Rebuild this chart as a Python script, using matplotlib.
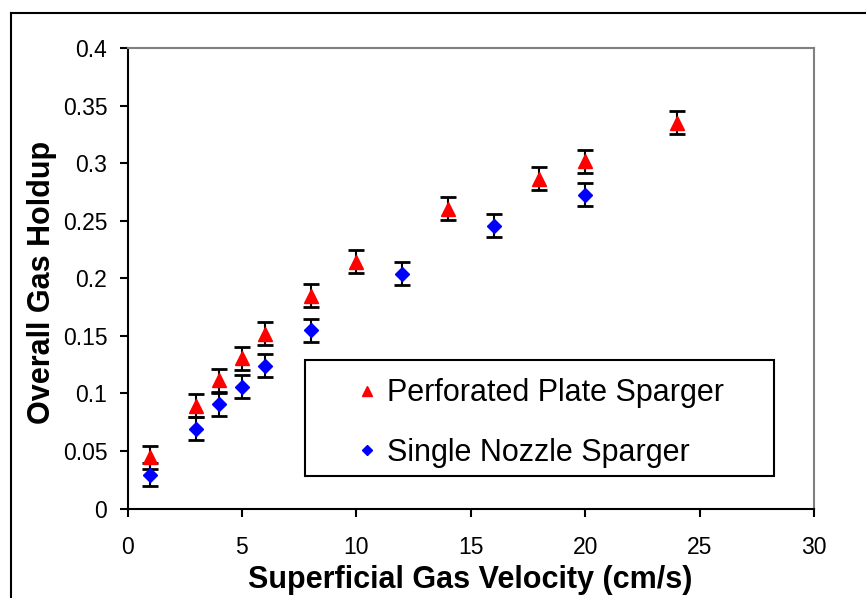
import numpy as np
import matplotlib
matplotlib.use("Agg")
import matplotlib.pyplot as plt
from matplotlib.lines import Line2D
from matplotlib.patches import Rectangle

plt.rcParams["font.family"] = ["Liberation Sans", "DejaVu Sans"]

# ── Holdup data (± error bars) ────────────────────────────────────────────────
vel_plate   = [1, 3, 4, 5, 6, 8, 10, 14, 18, 20, 24]
hold_plate  = [0.0445, 0.0893, 0.1115, 0.1306, 0.1519, 0.1849,
               0.2143, 0.2605, 0.2865, 0.3015, 0.3350]
err_plate   = [0.010] * len(vel_plate)

vel_nozzle  = [1, 3, 4, 5, 6, 8, 12, 16, 20]
hold_nozzle = [0.0293, 0.0694, 0.0905, 0.1058, 0.1238, 0.1550,
               0.2038, 0.2455, 0.2725]
err_nozzle  = [0.010] * len(vel_nozzle)

W, H = 866, 598
fig = plt.figure(figsize=(W / 100, H / 100), dpi=100)
ax = fig.add_axes([127.5 / W, 1 - 508.5 / H, 686.5 / W, 460.5 / H])

# error bars underneath, markers on top
ax.errorbar(vel_nozzle, hold_nozzle, yerr=err_nozzle, fmt="none", ecolor="black",
            elinewidth=1.5, capsize=5.8, capthick=2, zorder=2)
ax.errorbar(vel_plate, hold_plate, yerr=err_plate, fmt="none", ecolor="black",
            elinewidth=1.5, capsize=5.8, capthick=2, zorder=2)
ax.plot(vel_nozzle, hold_nozzle, linestyle="none", marker="D", ms=7,
        color="#0000ff", mec="#0000ff", zorder=3)
ax.plot(vel_plate, hold_plate, linestyle="none", marker="^", ms=10.5,
        color="#ff0000", mec="#ff0000", zorder=3)

ax.set_xlim(0, 30)
ax.set_ylim(0, 0.4)
ax.set_xticks(np.arange(0, 31, 5))
ax.set_yticks(np.arange(0, 0.401, 0.05))
ax.set_xticklabels(["0", "5", "10", "15", "20", "25", "30"])
ax.set_yticklabels(["0", "0.05", "0.1", "0.15", "0.2", "0.25", "0.3", "0.35", "0.4"])
ax.tick_params(direction="out", length=6, width=1.5, labelsize=16.5,
               top=False, right=False)
ax.tick_params(axis="y", pad=8.5)
ax.tick_params(axis="x", pad=13.5)

for side in ("left", "bottom"):
    ax.spines[side].set_color("black")
    ax.spines[side].set_linewidth(1.5)
for side in ("top", "right"):
    ax.spines[side].set_color("#808080")
    ax.spines[side].set_linewidth(1.5)

ax.set_xlabel("Superficial Gas Velocity (cm/s)", fontsize=22, fontweight="bold")
ax.set_ylabel("Overall Gas Holdup", fontsize=22, fontweight="bold")
ax.xaxis.set_label_coords((470 - 127.5) / 686.5, -(565 - 508.5) / 460.5)
ax.yaxis.set_label_coords(-(127.5 - 57) / 686.5, (508.5 - 282) / 460.5)

# legend: plain box drawn separately
handles = [
    Line2D([], [], linestyle="none", marker="^", ms=7.5, color="#ff0000"),
    Line2D([], [], linestyle="none", marker="D", ms=5, color="#0000ff"),
]
fig.add_artist(Rectangle((305 / W, 1 - 476 / H), 469 / W, 116 / H,
                         transform=fig.transFigure, fill=False,
                         edgecolor="black", lw=1.5))
fig.legend(handles, ["Perforated Plate Sparger", "Single Nozzle Sparger"],
           loc="center", bbox_to_anchor=(539 / W, 1 - 423 / H),
           frameon=False, fontsize=22, handlelength=0.8, handletextpad=0.25,
           labelspacing=0.95, borderpad=0)

# outer chart frame (left and top edges)
fig.add_artist(Line2D([10.5 / W, 10.5 / W], [0, 1 - 12.5 / H],
                      transform=fig.transFigure, color="black", lw=1.5))
fig.add_artist(Line2D([10.5 / W, 1], [1 - 12.5 / H, 1 - 12.5 / H],
                      transform=fig.transFigure, color="black", lw=1.5))

fig.savefig("out.png", dpi=100)
